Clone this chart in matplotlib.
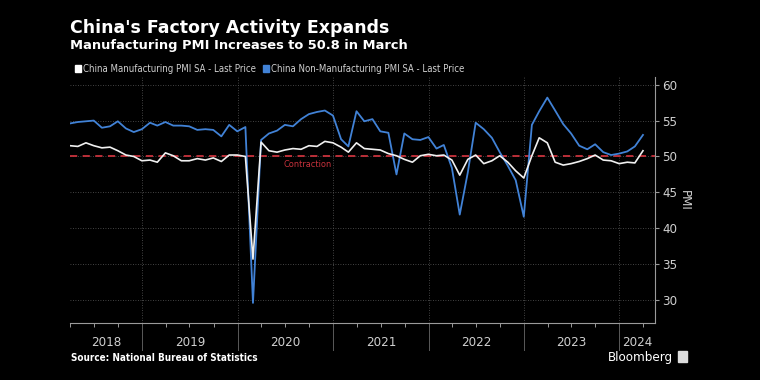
import numpy as np
import pandas as pd
import matplotlib.pyplot as plt
from matplotlib.lines import Line2D
import matplotlib.transforms as mtransforms

# monthly readings, Mar 2018 .. Mar 2024
dates = pd.date_range("2018-03-31", "2024-03-31", freq="ME")

mfg_pmi = [
    51.5, 51.4, 51.9, 51.5, 51.2, 51.3, 50.8, 50.2, 50.0, 49.4,
    49.5, 49.2, 50.5, 50.1, 49.4, 49.4, 49.7, 49.5, 49.8, 49.3, 50.2, 50.2,
    50.0, 35.7, 52.0, 50.8, 50.6, 50.9, 51.1, 51.0, 51.5, 51.4, 52.1, 51.9,
    51.3, 50.6, 51.9, 51.1, 51.0, 50.9, 50.4, 50.1, 49.6, 49.2, 50.1, 50.3,
    50.1, 50.2, 49.5, 47.4, 49.6, 50.2, 49.0, 49.4, 50.1, 49.2, 48.0, 47.0,
    50.1, 52.6, 51.9, 49.2, 48.8, 49.0, 49.3, 49.7, 50.2, 49.5, 49.4, 49.0,
    49.2, 49.1, 50.8,
]
non_mfg_pmi = [
    54.6, 54.8, 54.9, 55.0, 54.0, 54.2, 54.9, 53.9, 53.4, 53.8,
    54.7, 54.3, 54.8, 54.3, 54.3, 54.2, 53.7, 53.8, 53.7, 52.8, 54.4, 53.5,
    54.1, 29.6, 52.3, 53.2, 53.6, 54.4, 54.2, 55.2, 55.9, 56.2, 56.4, 55.7,
    52.4, 51.4, 56.3, 54.9, 55.2, 53.5, 53.3, 47.5, 53.2, 52.4, 52.3, 52.7,
    51.1, 51.6, 48.4, 41.9, 47.8, 54.7, 53.8, 52.6, 50.6, 48.7, 46.7, 41.6,
    54.4, 56.3, 58.2, 56.4, 54.5, 53.2, 51.5, 51.0, 51.7, 50.6, 50.2, 50.4,
    50.7, 51.4, 53.0,
]
years = [2018, 2019, 2020, 2021, 2022, 2023, 2024]
y_ticks = [30, 35, 40, 45, 50, 55, 60]

BG = "#000000"
WHITE = "#f0f0f0"
BLUE = "#4182d6"
RED = "#c8323c"
GRID = "#5a5a5a"
TXT = "#cfcfcf"
NARROW = dict(family="DejaVu Sans", stretch="condensed")

fig = plt.figure(figsize=(7.6, 3.8), dpi=100, facecolor=BG)
ax = fig.add_axes([70 / 760, 1 - 323 / 380, 585 / 760, 246 / 380])
ax.set_facecolor(BG)

x0 = pd.Timestamp("2018-03-31")
x1 = pd.Timestamp("2024-05-16")
ax.set_xlim(x0, x1)
ax.set_ylim(26.8, 61.07)

# grid
for v in y_ticks:
    ax.axhline(v, color=GRID, lw=0.6, ls=(0, (1, 2)), zorder=1)
for yr in years[1:]:
    ax.axvline(pd.Timestamp(f"{yr}-01-01"), color=GRID, lw=0.6, ls=(0, (1, 2)), zorder=1)

ax.axhline(50, color=RED, lw=1.3, ls=(0, (4, 3)), zorder=2)
ax.text(pd.Timestamp("2020-06-25"), 48.85, "Contraction", color=RED, fontsize=6.6,
        va="center", **NARROW)

ax.plot(dates, non_mfg_pmi, color=BLUE, lw=1.3, zorder=3)
ax.plot(dates, mfg_pmi, color=WHITE, lw=1.2, zorder=4)

# spines and ticks
for s in ["top", "left"]:
    ax.spines[s].set_visible(False)
ax.spines["bottom"].set_color("#9a9a9a")
ax.spines["right"].set_color("#9a9a9a")
ax.spines["bottom"].set_linewidth(0.8)
ax.spines["right"].set_linewidth(0.8)

ax.yaxis.tick_right()
ax.set_yticks(y_ticks)
ax.set_yticklabels([str(v) for v in y_ticks], **NARROW)
ax.tick_params(axis="y", colors="#9a9a9a", labelcolor=TXT, labelsize=9.5, length=3, width=0.8, pad=2)
ax.yaxis.set_label_position("right")
ax.set_ylabel("PMI", color=TXT, fontsize=9.5, rotation=270, labelpad=10, **NARROW)

quarters = pd.date_range("2018-04-01", "2024-04-01", freq="QS")
ax.set_xticks(quarters)
ax.set_xticklabels([])
ax.tick_params(axis="x", colors="#9a9a9a", length=3, width=0.7)

# year separators below axis and year labels
trans = mtransforms.blended_transform_factory(ax.transData, ax.transAxes)
for yr in years[1:]:
    d = pd.Timestamp(f"{yr}-01-01")
    ax.add_line(Line2D([d, d], [0, -27 / 246], transform=trans, color="#5a5a5a",
                       lw=0.7, clip_on=False))
for yr in years:
    a = max(pd.Timestamp(f"{yr}-01-01"), x0)
    b = min(pd.Timestamp(f"{yr + 1}-01-01"), x1)
    mid = a + (b - a) / 2
    ax.text(mid, -20 / 246, str(yr), transform=trans, color=TXT, fontsize=9.5,
            ha="center", va="center", **NARROW)

# titles
fig.text(70 / 760, 1 - 28 / 380, "China's Factory Activity Expands", color="white",
         fontsize=12.5, fontweight="bold", va="center")
fig.text(70 / 760, 1 - 46 / 380, "Manufacturing PMI Increases to 50.8 in March", color="white",
         fontsize=9.35, fontweight="bold", va="center")

# legend
fig.patches.append(plt.Rectangle((75 / 760, 1 - 71.5 / 380), 6 / 760, 6 / 380,
                                 transform=fig.transFigure, color="white"))
fig.text(83 / 760, 1 - 68.5 / 380, "China Manufacturing PMI SA - Last Price", color=TXT,
         fontsize=6.9, va="center", **NARROW)
fig.patches.append(plt.Rectangle((263 / 760, 1 - 71.5 / 380), 6 / 760, 6 / 380,
                                 transform=fig.transFigure, color=BLUE))
fig.text(271 / 760, 1 - 68.5 / 380, "China Non-Manufacturing PMI SA - Last Price", color=TXT,
         fontsize=6.9, va="center", **NARROW)

# footer
fig.text(71 / 760, 1 - 358 / 380, "Source: National Bureau of Statistics", color="white",
         fontsize=7.1, fontweight="bold", va="center", **NARROW)
fig.text(673 / 760, 1 - 357 / 380, "Bloomberg", color="white", fontsize=9.5,
         ha="right", va="center", **NARROW)
fig.patches.append(plt.Rectangle((678 / 760, 1 - 362 / 380), 9 / 760, 11 / 380,
                                 transform=fig.transFigure, color="#dddddd"))

fig.savefig("out.png", dpi=100, facecolor=BG)
